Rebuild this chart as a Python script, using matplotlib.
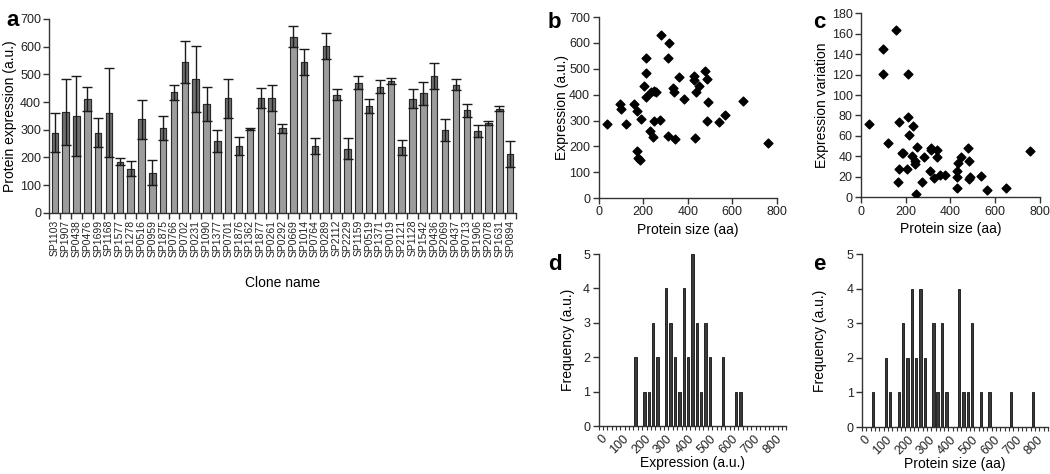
import numpy as np
import matplotlib
matplotlib.use("Agg")
import matplotlib.pyplot as plt

plt.rcParams['font.family'] = ['Liberation Sans', 'DejaVu Sans']
plt.rcParams['axes.linewidth'] = 1.0

# panel a: expression per clone
clones = ["SP1103", "SP1907", "SP0438", "SP0476", "SP1699", "SP1168", "SP1577", "SP1278",
          "SP0516", "SP0959", "SP1875", "SP0766", "SP0702", "SP0231", "SP1090", "SP1377",
          "SP0701", "SP1876", "SP1362", "SP1877", "SP0261", "SP0292", "SP0669", "SP1014",
          "SP0764", "SP0289", "SP2112", "SP2229", "SP1159", "SP0519", "SP1371", "SP0019",
          "SP2121", "SP1128", "SP1542", "SP0436", "SP2069", "SP0437", "SP0713", "SP1906",
          "SP2078", "SP1631", "SP0894"]
expr = [290, 365, 350, 410, 290, 362, 185, 160, 338, 145, 307, 435, 545, 483, 393, 260,
        413, 240, 303, 415, 413, 305, 635, 545, 241, 602, 426, 232, 470, 386, 455, 475,
        236, 412, 431, 494, 299, 463, 370, 294, 324, 376, 213]
expr_err = [72, 120, 145, 43, 52, 162, 14, 27, 70, 45, 43, 27, 77, 120, 60, 40,
            70, 32, 4, 36, 47, 15, 38, 47, 28, 48, 20, 39, 24, 24, 23, 11,
            27, 34, 41, 48, 38, 20, 23, 22, 6, 10, 47]

# panel b: protein size vs expression
size_b = [37, 97, 100, 122, 157, 172, 172, 178, 186, 190, 205, 212, 212, 215, 230, 237,
          245, 250, 250, 258, 275, 282, 312, 312, 318, 333, 340, 345, 360, 382, 430, 430,
          432, 435, 450, 478, 485, 487, 492, 540, 565, 648, 760]
expr_b = [288, 362, 345, 288, 362, 335, 183, 155, 147, 305, 435, 543, 482, 390, 258, 410,
          237, 300, 415, 410, 303, 632, 542, 240, 600, 425, 410, 230, 470, 385, 472, 455,
          233, 410, 432, 492, 462, 298, 372, 293, 322, 375, 213]

# panel c: protein size vs expression variation
size_c = [35, 97, 100, 120, 155, 170, 170, 168, 185, 190, 205, 210, 212, 215, 228, 235,
          240, 243, 245, 252, 272, 282, 310, 312, 315, 328, 340, 342, 355, 375, 430, 430,
          430, 433, 450, 478, 485, 485, 490, 540, 565, 648, 757]
var_c = [72, 121, 145, 53, 164, 74, 28, 15, 43, 43, 28, 121, 78, 61, 40, 70,
         32, 35, 3, 49, 15, 39, 26, 46, 48, 19, 46, 39, 22, 22, 9, 20,
         26, 33, 39, 48, 35, 18, 20, 21, 7, 9, 45]

# panel d/e: histograms (bin value -> count)
bins_d = [160, 200, 220, 240, 260, 300, 320, 340, 360, 380, 400, 420, 440, 460, 480, 500,
          560, 620, 640]
counts_d = [2, 1, 1, 3, 2, 4, 3, 2, 1, 4, 2, 5, 3, 1, 3, 2, 2, 1, 1]
bins_e = [40, 100, 120, 160, 180, 200, 220, 240, 260, 280, 320, 340, 360, 380, 440, 460,
          480, 500, 540, 580, 680, 780]
counts_e = [1, 2, 1, 1, 3, 2, 4, 2, 4, 2, 3, 1, 3, 1, 4, 1, 1, 3, 1, 1, 1, 1]
hist_labels = [str(v) for v in range(0, 900, 100)]

fig = plt.figure(figsize=(10.5, 4.74), dpi=100)
FS = 9


def clean(ax):
    ax.spines['top'].set_visible(False)
    ax.spines['right'].set_visible(False)
    for s in ('left', 'bottom'):
        ax.spines[s].set_color('#333333')
    ax.tick_params(direction='out', length=4, width=1, colors='#333333',
                   labelcolor='#222222', labelsize=FS, pad=2)


# ---- a
ax = fig.add_axes([0.047, 0.551, 0.444, 0.409])
x = np.arange(len(clones))
lower = np.array(expr) - np.array(expr_err)
ax.bar(x, expr, width=0.6, color='#9c9c9c', edgecolor='#2a2a2a', linewidth=0.8, zorder=2)
ax.bar(x, expr_err, bottom=lower, width=0.6, color='#6f6f6f', edgecolor='#2a2a2a',
       linewidth=0.8, zorder=3)
ax.errorbar(x, expr, yerr=expr_err, fmt='none', ecolor='#1a1a1a', elinewidth=1.0,
            capsize=3.5, capthick=1.0, zorder=4)
ax.set_xlim(-0.5, len(clones) - 0.5)
ax.set_ylim(0, 700)
ax.set_yticks(range(0, 701, 100))
clean(ax)
ax.set_xticks(x)
ax.set_xticklabels(clones, rotation=90, fontsize=7.5)
ax.set_xticks(np.arange(-0.5, len(clones), 1), minor=True)
ax.tick_params(axis='x', which='major', length=0, pad=5)
ax.tick_params(axis='x', which='minor', length=4, width=1, color='#333333')
ax.set_ylabel('Protein expression (a.u.)', fontsize=10, labelpad=2)
ax.set_xlabel('Clone name', fontsize=10, labelpad=14)

# ---- b
ax = fig.add_axes([0.570, 0.582, 0.170, 0.382])
ax.scatter(size_b, expr_b, marker='D', s=20, color='black', zorder=3)
ax.set_xlim(0, 800)
ax.set_ylim(0, 700)
ax.set_xticks(range(0, 801, 200))
ax.set_yticks(range(0, 701, 100))
clean(ax)
ax.set_xlabel('Protein size (aa)', fontsize=10, labelpad=3)
ax.set_ylabel('Expression (a.u.)', fontsize=10, labelpad=0)

# ---- c
ax = fig.add_axes([0.820, 0.584, 0.170, 0.388])
ax.scatter(size_c, var_c, marker='D', s=20, color='black', zorder=3)
ax.set_xlim(0, 800)
ax.set_ylim(0, 180)
ax.set_xticks(range(0, 801, 200))
ax.set_yticks(range(0, 181, 20))
clean(ax)
ax.set_xlabel('Protein size (aa)', fontsize=10, labelpad=3)
ax.set_ylabel('Expression variation', fontsize=10, labelpad=2)


def hist_panel(rect, bins, counts, xlabel, ypad):
    ax = fig.add_axes(rect)
    ax.bar(bins, counts, width=11, color='#3a3a3a', edgecolor='#111111', linewidth=0.6,
           zorder=3)
    ax.set_xlim(-10, 850)
    ax.set_ylim(0, 5)
    ax.set_yticks(range(0, 6))
    clean(ax)
    ax.set_xticks(range(0, 801, 100))
    ax.set_xticklabels(hist_labels, rotation=45, ha='right', rotation_mode='anchor')
    ax.set_xticks(np.arange(-10, 851, 20), minor=True)
    ax.tick_params(axis='x', which='major', length=0, pad=5)
    ax.tick_params(axis='x', which='minor', length=3, width=0.8, color='#333333')
    ax.set_xlabel(xlabel, fontsize=10, labelpad=0)
    ax.set_ylabel('Frequency (a.u.)', fontsize=10, labelpad=ypad)
    return ax


hist_panel([0.570, 0.101, 0.179, 0.363], bins_d, counts_d, 'Expression (a.u.)', 6)
hist_panel([0.821, 0.099, 0.177, 0.365], bins_e, counts_e, 'Protein size (aa)', 14)

# panel letters
for lab, px, py in [('a', 6, 10), ('b', 548, 12), ('c', 813, 12), ('d', 548, 254), ('e', 813, 254)]:
    fig.text(px / 1050, 1 - py / 474, lab, fontsize=16, fontweight='bold', va='top', ha='left')

fig.savefig('out.png', dpi=100)
